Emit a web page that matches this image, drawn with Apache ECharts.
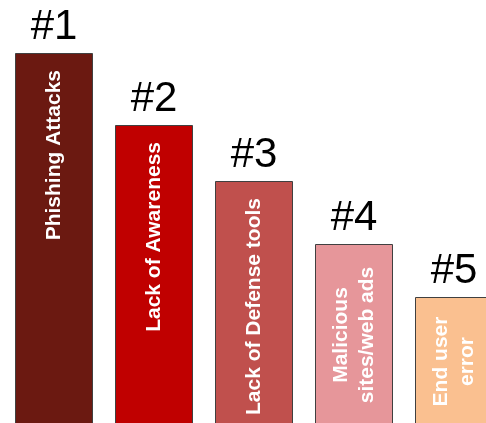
<!DOCTYPE html>
<html>
<head>
<meta charset="utf-8">
<script src="https://cdn.jsdelivr.net/npm/echarts@6/dist/echarts.min.js"></script>
<style>html,body{margin:0;padding:0;background:#fff;}#c{width:486px;height:423px;}</style>
</head>
<body>
<div id="c"></div>
<script>
var categories = ['Phishing Attacks', 'Lack of Awareness', 'Lack of Defense tools', 'Malicious\nsites/web ads', 'End user\nerror'];
var ranks = ['#1', '#2', '#3', '#4', '#5'];
var values = [373, 301, 245, 182, 129];
var colors = ['#6B1911', '#C00000', '#C0504D', '#E6969A', '#FAC090'];

var chart = echarts.init(document.getElementById('c'), null, {renderer: 'canvas'});

var mainData = values.map(function (v, i) {
  var multi = categories[i].indexOf('\n') >= 0;
  return {
    value: v,
    itemStyle: {color: colors[i]},
    label: multi ? {position: 'inside', align: 'center', verticalAlign: 'middle'} :
                   {position: 'insideTop', align: 'right', verticalAlign: 'middle', distance: 17}
  };
});

chart.setOption({
  animation: false,
  backgroundColor: '#ffffff',
  grid: {left: 4, width: 500, top: 0, bottom: -3, outerBoundsMode: 'none', containLabel: false},
  xAxis: {type: 'category', data: categories, show: false},
  yAxis: {type: 'value', min: 0, max: 426, show: false},
  series: [
    {
      type: 'bar',
      data: mainData,
      barWidth: 78,
      itemStyle: {borderColor: '#404040', borderWidth: 1},
      label: {
        show: true,
        rotate: 90,
        formatter: function (p) { return categories[p.dataIndex]; },
        color: '#ffffff',
        fontFamily: 'Liberation Sans',
        fontWeight: 'bold',
        fontSize: 21,
        lineHeight: 26
      }
    },
    {
      type: 'bar',
      data: values,
      barWidth: 78,
      barGap: '-100%',
      silent: true,
      itemStyle: {color: 'rgba(0,0,0,0)'},
      label: {
        show: true,
        position: 'top',
        distance: 5,
        formatter: function (p) { return ranks[p.dataIndex]; },
        color: '#000000',
        fontFamily: 'Liberation Sans',
        fontSize: 42
      }
    }
  ]
});
</script>
</body>
</html>
